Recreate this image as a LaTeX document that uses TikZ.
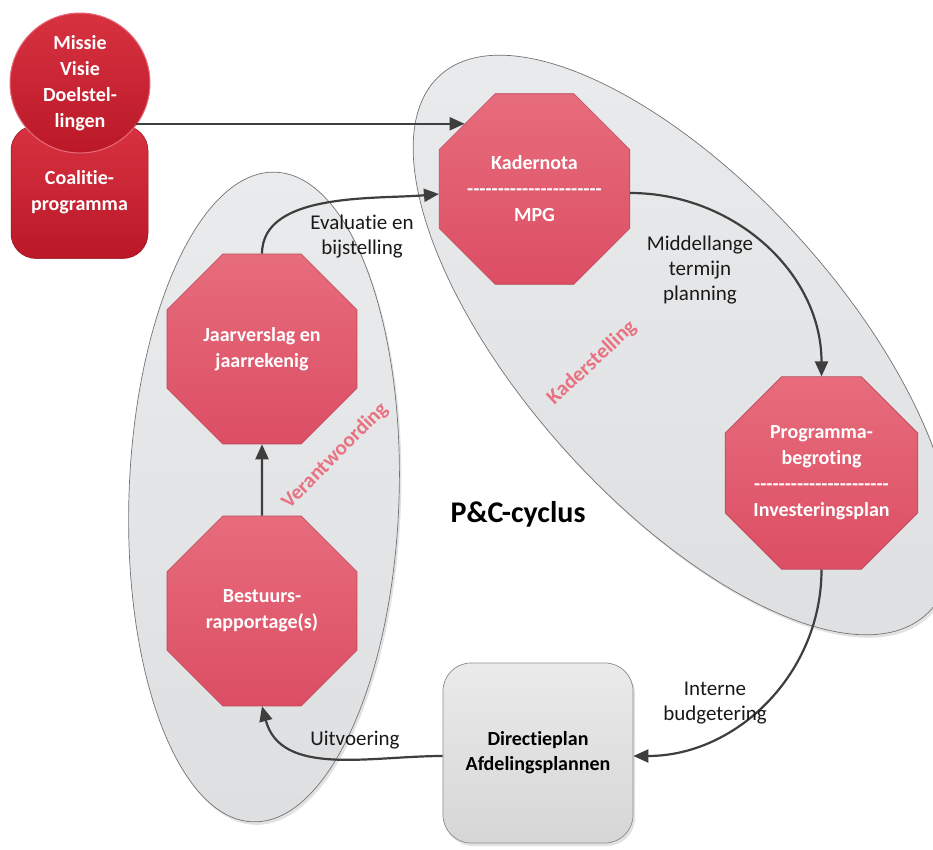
\documentclass[tikz,border=0pt]{standalone}
\usepackage{fontspec}
\setmainfont{Carlito}[Ligatures={TeX,NoCommon}]
\usetikzlibrary{shapes.geometric,arrows.meta,shadows}
\definecolor{dredA}{RGB}{216,50,64}
\definecolor{dredB}{RGB}{186,24,40}
\definecolor{octA}{RGB}{231,108,124}
\definecolor{octB}{RGB}{220,78,100}
\definecolor{octE}{RGB}{188,72,90}
\definecolor{ellA}{RGB}{234,235,236}
\definecolor{ellB}{RGB}{222,223,224}
\definecolor{ellE}{RGB}{115,115,115}
\definecolor{pinktxt}{RGB}{233,114,130}
\definecolor{arrc}{RGB}{62,62,62}
\begin{document}
\begin{tikzpicture}[x=1pt,y=-1pt,
  octo/.style={regular polygon, regular polygon sides=8, minimum size=205.6pt,
    inner sep=0pt, top color=octA, bottom color=octB, draw=octE, line width=0.6pt,
    text=white, font=\fontsize{20}{26}\selectfont\bfseries, align=center},
  grayell/.style={ellipse, inner sep=0pt, top color=ellA, bottom color=ellB,
    draw=ellE, line width=0.7pt,
    drop shadow={shadow xshift=2pt, shadow yshift=-3pt, opacity=0.25, fill=black!45}},
  redshape/.style={top color=dredA, bottom color=dredB, draw=dredB!80!black, line width=0.5pt,
    text=white, font=\fontsize{20}{26}\selectfont\bfseries, align=center, inner sep=0pt},
  arr/.style={draw=arrc, line width=2.2pt, -{Triangle[length=15pt,width=13pt]}},
  lbl/.style={font=\fontsize{21}{25}\selectfont, text=black!90, align=center, inner sep=0pt},
  sidelbl/.style={font=\fontsize{21}{24}\selectfont\bfseries, text=pinktxt, inner sep=0pt}
]
\useasboundingbox (0,0) rectangle (933,850);
\fill[white] (0,0) rectangle (933,850);

% background ellipses
\node[grayell, minimum width=726pt, minimum height=316pt, rotate=-48] (kaderell) at (683,345) {};
\node[grayell, minimum width=270pt, minimum height=650pt, rotate=-2] (verell) at (264,497) {};

% Directieplan box
\node[rectangle, rounded corners=28pt, minimum width=190pt, minimum height=180pt,
  top color=black!8, bottom color=black!16, draw=black!45, line width=0.7pt,
  drop shadow={shadow xshift=2pt, shadow yshift=-3pt, opacity=0.25, fill=black!45},
  font=\fontsize{20}{25}\selectfont\bfseries, align=center, text=black] (dir) at (538,753)
  {Directieplan\\Afdelingsplannen};

% Coalitie and Missie
\node[redshape, rectangle, rounded corners=25pt, minimum width=137pt, minimum height=133pt] (coal) at (79.5,192)
  {Coalitie-\\programma};
\node[redshape, circle, minimum size=140pt, draw=octA, line width=1pt] (missie) at (80,83)
  {Missie\\Visie\\Doelstel-\\lingen};

% octagons
\node[octo] (kader) at (534.5,189)
  {Kadernota\\-{}-{}-{}-{}-{}-{}-{}-{}-{}-{}-{}-{}-{}-{}-{}-{}-{}-{}-{}-{}-{}-{}\\MPG};
\node[octo] (prog) at (821.5,473)
  {Programma-\\begroting\\-{}-{}-{}-{}-{}-{}-{}-{}-{}-{}-{}-{}-{}-{}-{}-{}-{}-{}-{}-{}-{}-{}\\Investeringsplan};
\node[octo] (jaar) at (262,349) {Jaarverslag en\\jaarrekenig};
\node[octo] (best) at (262,611) {Bestuurs-\\rapportage(s)};

% connectors
\draw[arr] (missie.-37 |- kader.137.6) -- (kader.137.6);
\draw[arr] (jaar.north) to[out=90,in=185,looseness=0.85] ([yshift=-5pt]kader.west);
\draw[arr] ([yshift=-4pt]kader.east) to[out=0,in=90] (prog.north);
\draw[arr] (prog.south) to[out=-90,in=0] ([yshift=-3pt]dir.east);
\draw[arr] ([yshift=-3pt]dir.west) to[out=180,in=-75] (best.south);
\draw[arr] (best.north) -- (jaar.south);

% labels
\node[lbl] (l1) at (362,237) {Evaluatie en\\bijstelling};
\node[lbl] (l2) at (700,270) {Middellange\\termijn\\planning};
\node[lbl] (l3) at (715,703) {Interne\\budgetering};
\node[lbl] (l4) at (355,740) {Uitvoering};
\node[font=\fontsize{30}{34}\selectfont\bfseries, inner sep=0pt] (pc) at (518,514) {P\&C-cyclus};
\node[sidelbl, rotate=45] (verl) at (335,456) {Verantwoording};
\node[sidelbl, rotate=43] (kadl) at (592,363) {Kaderstelling};
\end{tikzpicture}
\end{document}
